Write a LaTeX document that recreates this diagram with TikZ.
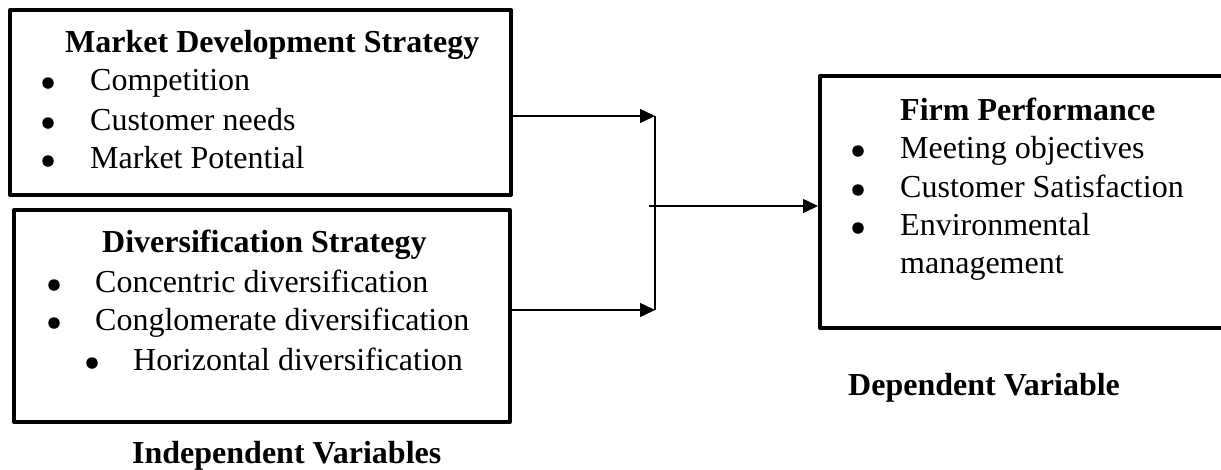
\documentclass[tikz,border=0pt]{standalone}
\usepackage{fontspec}
\setmainfont{Liberation Serif}
\usetikzlibrary{arrows.meta}
\begin{document}
\begin{tikzpicture}[x=1pt, y=-1pt, line join=round, >={Triangle[length=15pt,width=14pt]},
		font=\fontsize{32}{38}\selectfont,
		box/.style={draw, line width=4pt, inner sep=0pt},
		txt/.style={anchor=base west, inner sep=0pt},
		ttl/.style={txt, font=\fontsize{32}{38}\selectfont\bfseries},
		dot/.style={circle, fill, inner sep=0pt, minimum size=11.5pt},
		link/.style={line width=1.5pt}]
	\useasboundingbox (0,0) rectangle (1221,469);
	\clip (0,0) rectangle (1221,469);
	\path
	(655,116) coordinate (J1)
	(655,310) coordinate (J2)
	(655,206) coordinate (J)
	;
	% boxes
	\node[box, minimum width=501pt, minimum height=185pt] (mds) at (260.5,102.5) {};
	\node[box, minimum width=496pt, minimum height=212pt] (ds) at (262,316) {};
	\node[box, minimum width=420pt, minimum height=252pt] (fp) at (1030,202) {};
	% titles
	\node[ttl] (mdsT) at (65,52) {Market Development Strategy};
	\node[ttl] (dsT) at (102,252) {Diversification Strategy};
	\node[ttl] (fpT) at (900,120) {Firm Performance};
	\node[ttl] (iv) at (132,463) {Independent Variables};
	\node[ttl] (dv) at (848,395) {Dependent Variable};
	% items
	\foreach \t/\y [count=\i] in {Competition/90,Customer needs/130,Market Potential/168}
		\node[txt] (m\i) at (90,\y) {\t} (48,\y-7) node[dot] (mb\i) {};
	\foreach \t/\x/\y [count=\i] in {Concentric diversification/95/292,Conglomerate diversification/95/330,Horizontal diversification/133/370}
		\node[txt] (d\i) at (\x,\y) {\t} (\x-41,\y-7) node[dot] (db\i) {};
	\foreach \t/\y [count=\i] in {Meeting objectives/158,Customer Satisfaction/197,Environmental/235}
		\node[txt] (f\i) at (900,\y) {\t} (858,\y-7) node[dot] (fb\i) {};
	\node[txt] (f4) at (900,273) {management};
	% connectors
	\draw[link,->] ([xshift=-4pt]mds.east |- J1) -- (J1);
	\draw[link,->] (ds.east |- J2) -- (J2);
	\draw[link] (J1) -- (J2);
	\draw[link,->] ([xshift=-6pt]J) -- (fp.west |- J);
\end{tikzpicture}
\end{document}
